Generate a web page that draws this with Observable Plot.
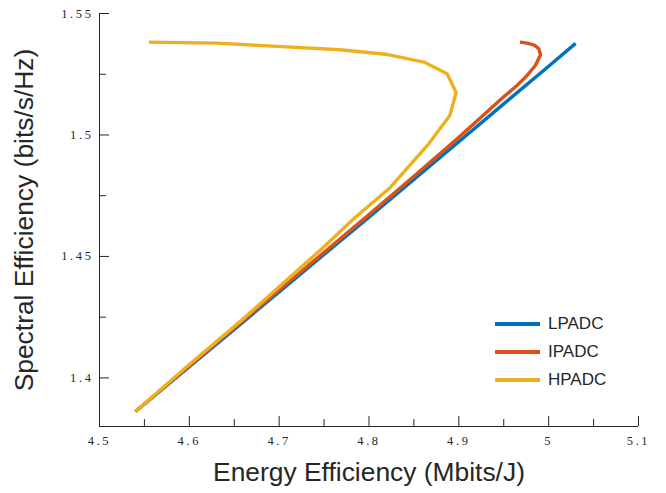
<!DOCTYPE html>
<html>
<head>
<meta charset="utf-8">
<script src="https://cdn.jsdelivr.net/npm/d3@7"></script>
<script src="https://cdn.jsdelivr.net/npm/@observablehq/plot@0.6"></script>
<style>
  html, body { margin: 0; padding: 0; background: #fff; }
  #wrap { position: relative; width: 666px; height: 493px; }
  #wrap svg g[aria-label$="tick label"] text { letter-spacing: 2.6px; }
  .legend { position: absolute; left: 495px; top: 310px; font-family: "Liberation Sans", Arial, sans-serif; font-size: 17px; color: #262626; }
  .legend .row { display: flex; align-items: center; height: 28px; }
  .legend .sw { width: 45px; height: 3.5px; margin-right: 8px; }
</style>
</head>
<body>
<div id="wrap"></div>
<script>
const seriesNames = ["LPADC", "IPADC", "HPADC"];
const seriesColors = ["#0072BD", "#D95319", "#EDB120"];

const lpadcX = [4.540, 4.600, 4.650, 4.700, 4.750, 4.800, 4.850, 4.900, 4.950, 5.000, 5.030];
const lpadcY = [1.3862, 1.4046, 1.4200, 1.4354, 1.4508, 1.4662, 1.4817, 1.4972, 1.5128, 1.5283, 1.5377];

const ipadcX = [4.540, 4.600, 4.700, 4.800, 4.850, 4.900, 4.930, 4.950, 4.965, 4.976, 4.985, 4.991, 4.989, 4.984, 4.976, 4.968];
const ipadcY = [1.3862, 1.4050, 1.4362, 1.4672, 1.4830, 1.4990, 1.5090, 1.5157, 1.5205, 1.5245, 1.5285, 1.5330, 1.5355, 1.5370, 1.5378, 1.5382];

const hpadcX = [4.540, 4.600, 4.659, 4.700, 4.750, 4.783, 4.824, 4.865, 4.890, 4.897, 4.887, 4.861, 4.821, 4.768, 4.631, 4.555];
const hpadcY = [1.3862, 1.4055, 1.4240, 1.4375, 1.4540, 1.4655, 1.4785, 1.4957, 1.5080, 1.5175, 1.5252, 1.5300, 1.5331, 1.5351, 1.5378, 1.5382];

const xMajor = [4.5, 4.6, 4.7, 4.8, 4.9, 5.0, 5.1];
const xMinor = [4.55, 4.65, 4.75, 4.85, 4.95, 5.05];
const yMajor = [1.4, 1.45, 1.5, 1.55];
const yMinor = [1.425, 1.475, 1.525];
const xTitle = "Energy Efficiency (Mbits/J)";
const yTitle = "Spectral Efficiency (bits/s/Hz)";

const data = [];
[[lpadcX, lpadcY], [ipadcX, ipadcY], [hpadcX, hpadcY]].forEach(([xs, ys], i) => {
  xs.forEach((x, j) => data.push({series: seriesNames[i], x, y: ys[j]}));
});

const fmt = d => String(+d.toFixed(3));
const axisColor = "#262626";

const chart = Plot.plot({
  width: 666,
  height: 493,
  marginLeft: 99,
  marginRight: 28,
  marginTop: 13,
  marginBottom: 67,
  style: { fontFamily: "'Liberation Serif', serif", fontSize: "12.5px", color: axisColor, background: "#fff" },
  x: { domain: [4.5, 5.1], axis: null },
  y: { domain: [1.38, 1.55], axis: null },
  color: { domain: seriesNames, range: seriesColors },
  marks: [
    Plot.line(data, { x: "x", y: "y", z: "series", stroke: "series", strokeWidth: 3.4, strokeLinejoin: "round", strokeLinecap: "butt" }),
    Plot.ruleX([4.5], { stroke: axisColor, strokeWidth: 1 }),
    Plot.ruleY([1.38], { stroke: axisColor, strokeWidth: 1 }),
    Plot.axisX(xMajor, { anchor: "bottom", tickSize: -10, tickPadding: 20, tickFormat: fmt, label: null, stroke: axisColor, fill: axisColor, strokeOpacity: 1 }),
    Plot.axisX(xMinor, { anchor: "bottom", tickSize: -7, tickFormat: () => "", label: null, stroke: axisColor, strokeOpacity: 1 }),
    Plot.axisY(yMajor, { anchor: "left", tickSize: -10, tickPadding: 16, tickFormat: fmt, label: null, stroke: axisColor, fill: axisColor, strokeOpacity: 1 }),
    Plot.axisY(yMinor, { anchor: "left", tickSize: -7, tickFormat: () => "", label: null, stroke: axisColor, strokeOpacity: 1 }),
    Plot.text([xTitle], { frameAnchor: "bottom", dy: 46, fontSize: 26.4, fontFamily: "'Liberation Sans', Arial, sans-serif", fill: axisColor, textAnchor: "middle", lineAnchor: "middle" }),
    Plot.text([yTitle], { frameAnchor: "left", dx: -75, rotate: -90, fontSize: 26.4, fontFamily: "'Liberation Sans', Arial, sans-serif", fill: axisColor, textAnchor: "middle", lineAnchor: "middle" })
  ]
});

const wrap = document.getElementById("wrap");
wrap.appendChild(chart);

const legend = document.createElement("div");
legend.className = "legend";
seriesNames.forEach((name, i) => {
  const row = document.createElement("div");
  row.className = "row";
  const sw = document.createElement("span");
  sw.className = "sw";
  sw.style.background = seriesColors[i];
  const t = document.createElement("span");
  t.textContent = name;
  row.appendChild(sw);
  row.appendChild(t);
  legend.appendChild(row);
});
wrap.appendChild(legend);
</script>
</body>
</html>
